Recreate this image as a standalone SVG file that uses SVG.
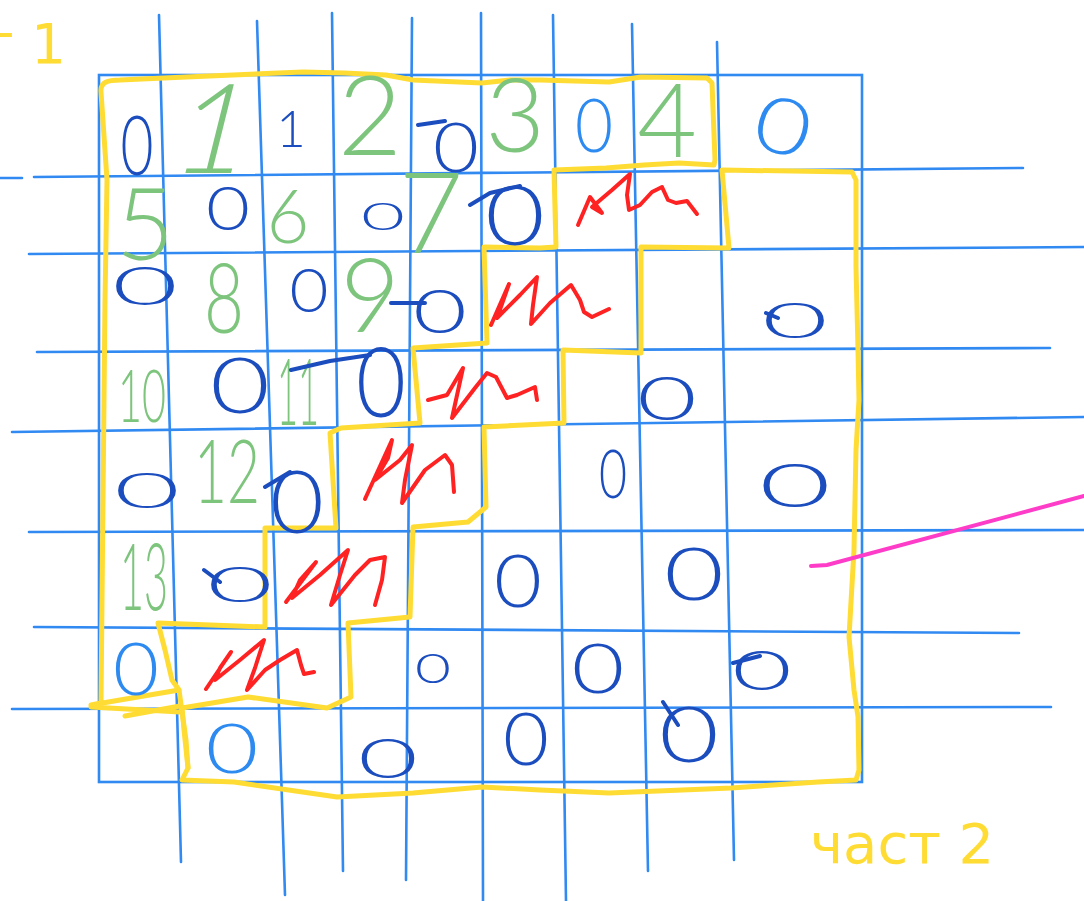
<svg xmlns="http://www.w3.org/2000/svg" width="1084" height="901" viewBox="0 0 1084 901">
<style>
.grid{stroke:#3189F2;stroke-width:2.6;fill:none;stroke-linecap:round}
.yel{stroke:#FFDC33;stroke-width:5;fill:none;stroke-linejoin:round;stroke-linecap:round}
.red{stroke:#FF2222;stroke-width:4;fill:none;stroke-linejoin:round;stroke-linecap:round}
.pink{stroke:#FF3CC8;stroke-width:4;fill:none;stroke-linecap:round}
.tick{stroke:#1B4DBE;stroke-width:4;fill:none;stroke-linecap:round;stroke-linejoin:round}
.g{fill:#7DC47D;font-family:Lato,"Open Sans",sans-serif;font-weight:300;text-anchor:middle}
.d{fill:#1B4DBE;font-family:Lato,"Open Sans",sans-serif;font-weight:300;text-anchor:middle}
.l{fill:#2D8AF0;font-family:Lato,"Open Sans",sans-serif;font-weight:300;text-anchor:middle}
.lab{fill:#FFDC33;font-family:"DejaVu Sans",sans-serif}
</style>
<rect width="1084" height="901" fill="#ffffff"/>
<g id="grid">
<rect class="grid" x="99" y="75" width="763" height="707"/>
<line class="grid" x1="0" y1="178" x2="22" y2="178"/>
<line class="grid" x1="34" y1="177" x2="1023" y2="168"/>
<line class="grid" x1="29" y1="254" x2="1084" y2="247"/>
<line class="grid" x1="37" y1="352" x2="1050" y2="348"/>
<line class="grid" x1="12" y1="432" x2="1084" y2="417"/>
<line class="grid" x1="29" y1="532" x2="1084" y2="530"/>
<line class="grid" x1="34" y1="627" x2="1019" y2="633"/>
<line class="grid" x1="12" y1="709" x2="1051" y2="707"/>
<line class="grid" x1="159" y1="15" x2="181" y2="862"/>
<line class="grid" x1="257" y1="21" x2="285" y2="895"/>
<line class="grid" x1="332" y1="13" x2="343" y2="871"/>
<line class="grid" x1="412" y1="18" x2="406" y2="880"/>
<line class="grid" x1="481" y1="13" x2="483" y2="901"/>
<line class="grid" x1="553" y1="15" x2="566" y2="901"/>
<line class="grid" x1="632" y1="24" x2="648" y2="871"/>
<line class="grid" x1="717" y1="42" x2="734" y2="860"/>
</g>
<g id="part1">
<path class="yel" d="M101,92 C100,82 108,80 120,80 L186,77 L303,72 L344,73 L386,75 L413,80 L482,83 L510,80 L540,80 L609,82 L641,77 L707,78 L712,83 L715,160 L714,165 L679,163 L644,165 L606,168 L554,170 L556,247 L540,248 L484,247 L487,343 L413,348 L420,423 L341,428 L330,433 L336,528 L265,528 L265,627 L158,623 L165,650 L172,680 L179,690 L120,700 L91,705 L101,703 L103,500 L105,300 L107,180 L101,92"/>
<path class="yel" d="M91,707 L180,712 M125,716 L180,706 M179,690 L186,740 L188,768"/>
</g>
<g id="part2">
<path class="yel" d="M722,170 L852,172 L856,180 L856,267 L858,350 L859,400 L856,450 L854,550 L849,637 L854,690 L858,717 L859,770 L856,780 L818,782 L731,788 L609,793 L540,790 L482,787 L413,793 L337,797 L234,782 L182,780 L188,768 L184,730 L182,708 L248,697 L327,708 L351,697 L348,623 L410,617 L413,527 L468,522 L486,507 L484,427 L564,423 L563,350 L641,353 L641,247 L729,248 L722,170 Z"/>
</g>
<g id="scribbles">
<path class="red" d="M578,225 L590,197 L602,213 L592,207 L612,190 L630,174 L627,195 L629,210 L640,205 L652,192 L662,187 L668,200 L676,203 L687,201 L697,214"/>
<path class="red" d="M491,325 L509,284 L497,318 L520,295 L537,277 L533,305 L531,324 L550,303 L571,285 L580,300 L584,312 L592,317 L609,309"/>
<path class="red" d="M428,400 L447,395 L463,368 L452,418 L475,388 L487,373 L496,377 L507,398 L517,395 L535,387 L537,400"/>
<path class="red" d="M365,499 L392,440 L388,458 L375,480 L400,460 L412,445 L405,480 L402,503 L425,470 L445,455 L452,465 L454,492"/>
<path class="red" d="M286,602 L316,562 L300,580 L292,598 L320,575 L348,550 L340,575 L331,605 L355,575 L370,560 L385,557 L382,580 L375,605"/>
<path class="red" d="M206,689 L231,652 L220,668 L215,680 L240,660 L264,640 L255,668 L247,690 L265,670 L280,660 L297,650 L301,665 L304,674 L314,672"/>
</g>
<g id="pointer">
<path class="pink" d="M811,566 L827,565 L1084,496"/>
</g>
<g id="numbers">
<text class="g" transform="translate(205,173) skewX(-14)" font-size="125">1</text>
<text class="g" x="370" y="155" font-size="111">2</text>
<text class="g" x="515" y="152" font-size="103">3</text>
<text class="g" x="667" y="157" font-size="103">4</text>
<text class="g" x="145" y="260" font-size="101">5</text>
<text class="g" x="288" y="243" font-size="74">6</text>
<text class="g" x="431" y="253" font-size="112">7</text>
<text class="g" x="224" y="333" font-size="97" textLength="40" lengthAdjust="spacingAndGlyphs">8</text>
<text class="g" x="370" y="332" font-size="103">9</text>
<text class="g" x="142" y="422" font-size="72" textLength="48" lengthAdjust="spacingAndGlyphs">10</text>
<text class="g" x="298" y="425" font-size="93" textLength="42" lengthAdjust="spacingAndGlyphs">11</text>
<text class="g" x="227" y="503" font-size="88" textLength="66" lengthAdjust="spacingAndGlyphs">12</text>
<text class="g" x="144" y="610" font-size="93" textLength="48" lengthAdjust="spacingAndGlyphs">13</text>
</g>
<g id="zeros">
<text class="d" x="137" y="175" font-size="83" textLength="33" lengthAdjust="spacingAndGlyphs">0</text>
<text class="d" x="291" y="147" font-size="51">1</text>
<text class="d" x="456" y="172" font-size="69" textLength="46" lengthAdjust="spacingAndGlyphs">0</text>
<text class="l" x="594" y="152" font-size="75" textLength="38" lengthAdjust="spacingAndGlyphs">0</text>
<text class="l" transform="translate(776,153) rotate(15)" font-size="78" textLength="56" lengthAdjust="spacingAndGlyphs">0</text>
<text class="d" x="228" y="230" font-size="62" textLength="44" lengthAdjust="spacingAndGlyphs">0</text>
<text class="d" x="383" y="230" font-size="38" textLength="44" lengthAdjust="spacingAndGlyphs">0</text>
<text class="d" x="515" y="245" font-size="83" textLength="60" lengthAdjust="spacingAndGlyphs">0</text>
<text class="d" x="145" y="305" font-size="53" textLength="66" lengthAdjust="spacingAndGlyphs">0</text>
<text class="d" x="309" y="312" font-size="61" textLength="39" lengthAdjust="spacingAndGlyphs">0</text>
<text class="d" x="440" y="333" font-size="62" textLength="54" lengthAdjust="spacingAndGlyphs">0</text>
<text class="d" x="795" y="338" font-size="49" textLength="66" lengthAdjust="spacingAndGlyphs">0</text>
<text class="d" x="240" y="413" font-size="76" textLength="60" lengthAdjust="spacingAndGlyphs">0</text>
<text class="d" x="381" y="417" font-size="97" textLength="50" lengthAdjust="spacingAndGlyphs">0</text>
<text class="d" x="667" y="420" font-size="62" textLength="60" lengthAdjust="spacingAndGlyphs">0</text>
<text class="d" x="147" y="508" font-size="49" textLength="66" lengthAdjust="spacingAndGlyphs">0</text>
<text class="d" x="297" y="533" font-size="86" textLength="54" lengthAdjust="spacingAndGlyphs">0</text>
<text class="d" x="613" y="498" font-size="67" textLength="28" lengthAdjust="spacingAndGlyphs">0</text>
<text class="d" x="795" y="507" font-size="62" textLength="72" lengthAdjust="spacingAndGlyphs">0</text>
<text class="d" x="240" y="602" font-size="50" textLength="66" lengthAdjust="spacingAndGlyphs">0</text>
<text class="d" x="518" y="607" font-size="72" textLength="48" lengthAdjust="spacingAndGlyphs">0</text>
<text class="d" x="694" y="600" font-size="72" textLength="60" lengthAdjust="spacingAndGlyphs">0</text>
<text class="l" x="136" y="695" font-size="72" textLength="46" lengthAdjust="spacingAndGlyphs">0</text>
<text class="d" x="433" y="683" font-size="42" textLength="36" lengthAdjust="spacingAndGlyphs">0</text>
<text class="d" x="598" y="693" font-size="69" textLength="53" lengthAdjust="spacingAndGlyphs">0</text>
<text class="d" x="762" y="690" font-size="55" textLength="60" lengthAdjust="spacingAndGlyphs">0</text>
<text class="l" x="232" y="773" font-size="69" textLength="53" lengthAdjust="spacingAndGlyphs">0</text>
<text class="d" x="388" y="778" font-size="55" textLength="60" lengthAdjust="spacingAndGlyphs">0</text>
<text class="d" x="526" y="765" font-size="72" textLength="46" lengthAdjust="spacingAndGlyphs">0</text>
<text class="d" x="689" y="762" font-size="76" textLength="60" lengthAdjust="spacingAndGlyphs">0</text>
<path class="tick" d="M418,125 L445,121 M470,205 L490,193 L520,186 M391,303 L425,303 M291,370 L330,361 L370,355 M265,487 L290,472 M204,570 L220,582 M733,663 L760,656 M663,702 L678,725 M766,313 L778,318"/>
</g>
<g id="labels">
<text class="lab" x="66" y="63" font-size="55" text-anchor="end">част 1</text>
<text class="lab" x="810" y="863" font-size="56">част 2</text>
</g>
</svg>
